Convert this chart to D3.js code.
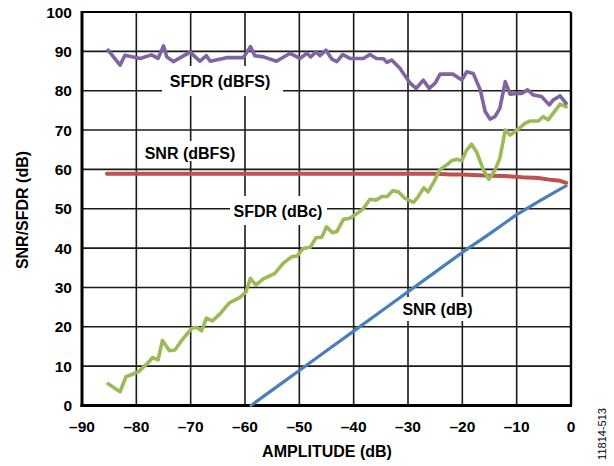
<!DOCTYPE html>
<html><head><meta charset="utf-8">
<script src="https://cdn.jsdelivr.net/npm/d3@7"></script>
<style>body{margin:0;background:#fff}svg{display:block}text{font-family:"Liberation Sans",Arial,sans-serif}</style>
</head><body><svg id="c" width="614" height="466"></svg>
<script>
// ---- data ----
const xTicks = [-90,-80,-70,-60,-50,-40,-30,-20,-10,0];
const yTicks = [0,10,20,30,40,50,60,70,80,90,100];

const sfdrDbfsAmp = [-85.2,-83,-82.1,-79.3,-77.2,-76,-75,-74.4,-73.2,-70.1,-68.3,-67.1,-66.4,-63.4,-60.3,-59,-58.2,-56.6,-54.2,-51.7,-49.9,-48.6,-47.9,-46.9,-46.2,-45.1,-44,-43.1,-42,-40.7,-38.2,-37,-35.8,-34.5,-33.9,-33,-31.5,-29.6,-28.5,-27.2,-26.1,-25,-24.1,-21.7,-20.1,-19.2,-18,-16.7,-15.8,-14.9,-14,-13.1,-12.1,-11.2,-10,-9.1,-8,-6.9,-5.4,-4,-3.3,-2,-0.9];
const sfdrDbfs    = [90.3,86.5,89.0,88.2,89.1,88.2,91.4,88.6,87.4,89.8,87.5,88.9,87.5,88.4,88.4,91.2,88.9,88.6,87.5,89.5,88.2,89.5,88.6,89.9,88.9,90.3,88.0,87.4,89.2,88.2,88.2,89.2,88.2,88.1,87.2,87.8,85.7,81.9,80.6,82.7,80.6,81.9,84.2,84.2,82.7,84.8,84.4,80.2,74.7,72.8,73.4,75.5,82.3,79.1,79.3,79.3,80.2,78.9,78.5,76.4,77.6,78.7,76.8];

const sfdrDbcAmp = [-85.2,-83,-81.9,-80.6,-79.6,-78.1,-77,-76,-75.2,-73.9,-72.9,-71.5,-69.8,-68.9,-68,-67.1,-66,-64.6,-62.9,-60.9,-59.8,-59,-58,-56.7,-54.5,-53,-51.4,-50.4,-49.3,-48,-46.9,-45.9,-45,-43.9,-43.1,-41.9,-40.7,-39.4,-38.3,-37,-35.9,-34.8,-33.8,-32.8,-31.8,-30.6,-29,-28.1,-27.1,-26.3,-25.2,-24.1,-22.9,-22,-21,-20.1,-19.2,-18.3,-17.4,-16.1,-15.1,-14,-13.1,-12.1,-11.2,-10,-9.1,-8.5,-7.5,-6,-5.1,-4.2,-2.6,-2,-0.9];
const sfdrDbc    = [5.5,3.5,7.3,8.0,8.6,10.5,12.2,11.6,16.5,13.9,14.1,16.8,19.6,19.9,19.0,22.2,21.5,23.3,26.1,27.5,28.9,32.3,30.6,32.1,33.6,36.1,37.8,38.0,39.9,40.2,42.7,42.7,45.4,43.9,44.2,47.3,47.6,48.8,49.9,52.4,52.2,53.1,53.1,54.6,54.3,52.7,51.6,53.1,55.3,54.3,56.9,60.0,61.1,62.2,62.6,62.2,64.9,66.4,64.5,59.8,57.5,59.8,62.8,70.0,68.7,70.0,70.9,71.7,72.3,72.3,73.4,72.6,75.5,76.6,75.9];

const snrDbfsAmp = [-85.4,-80,-70,-60,-50,-40,-30,-25,-22,-20,-15,-12,-9,-6,-4,-2,-0.9];
const snrDbfs    = [58.9,58.9,58.9,58.9,58.9,58.9,58.9,58.9,58.7,58.7,58.4,58.3,58.0,57.8,57.4,57.1,56.6];

const snrDbAmp = [-58.9,-55,-50,-45,-40,-35,-30,-25,-20,-15,-10,-6,-4,-2,-0.9];
const snrDb    = [0,3.9,8.9,13.9,18.9,23.9,28.9,33.9,38.9,43.6,48.5,51.8,53.4,55.0,55.8];

// ---- layout ----
const svg = d3.select("#c");
const L = 82, R = 571, T = 12, B = 405.5;
const x = d3.scaleLinear().domain([-90,0]).range([L,R]);
const y = d3.scaleLinear().domain([0,100]).range([B,T]);
const fmt = v => v < 0 ? "\u2013" + Math.abs(v) : String(v);

// gridlines
const g = svg.append("g");
g.selectAll(".vx").data(xTicks).join("line")
  .attr("x1",d=>x(d)).attr("x2",d=>x(d)).attr("y1",T).attr("y2",B)
  .attr("stroke","#1a1a1a").attr("stroke-width",1.6);
g.selectAll(".hy").data(yTicks).join("line")
  .attr("x1",L).attr("x2",R).attr("y1",d=>y(d)).attr("y2",d=>y(d))
  .attr("stroke","#1a1a1a").attr("stroke-width",1.6);

// label boxes (mask gridlines)
const labels = [
  {t:"SFDR (dBFS)", cx:220, cy:81, box:[162,66,121,30]},
  {t:"SNR (dBFS)",  cx:190, cy:153, box:[141,141,98,20]},
  {t:"SFDR (dBc)",  cx:278, cy:211, box:[230,196,97,29]},
  {t:"SNR (dB)",    cx:437.5, cy:309, box:[398,297,79,24]}
];
svg.append("g").selectAll("rect").data(labels).join("rect")
  .attr("x",d=>d.box[0]).attr("y",d=>d.box[1]).attr("width",d=>d.box[2]).attr("height",d=>d.box[3])
  .attr("fill","#fff");

// frame
svg.append("line").attr("x1",L).attr("x2",L).attr("y1",T-1).attr("y2",B+1.5).attr("stroke","#000").attr("stroke-width",3);
svg.append("line").attr("x1",L-1.5).attr("x2",R+1).attr("y1",B).attr("y2",B).attr("stroke","#000").attr("stroke-width",3);
svg.append("line").attr("x1",L).attr("x2",R).attr("y1",T).attr("y2",T).attr("stroke","#000").attr("stroke-width",2.2);
svg.append("line").attr("x1",R).attr("x2",R).attr("y1",T).attr("y2",B).attr("stroke","#000").attr("stroke-width",2.4);

// series
const line = d3.line().x(d=>x(d[0])).y(d=>y(d[1]));
const series = [
  {a:snrDbfsAmp, v:snrDbfs, c:"#c0504d", w:4},
  {a:snrDbAmp, v:snrDb, c:"#4a7ebb", w:3.2},
  {a:sfdrDbcAmp, v:sfdrDbc, c:"#9bbb59", w:3.6},
  {a:sfdrDbfsAmp, v:sfdrDbfs, c:"#8064a2", w:3.6}
];
svg.append("g").selectAll("path").data(series).join("path")
  .attr("d",s=>line(s.a.map((a,i)=>[a,s.v[i]])))
  .attr("fill","none").attr("stroke",s=>s.c).attr("stroke-width",s=>s.w)
  .attr("stroke-linejoin","round").attr("stroke-linecap","round");

// label texts
svg.append("g").selectAll("text").data(labels).join("text")
  .attr("x",d=>d.cx).attr("y",d=>d.cy).attr("text-anchor","middle").attr("dominant-baseline","central")
  .attr("font-size",16).attr("font-weight","bold").attr("fill","#000").text(d=>d.t);

// tick labels
svg.append("g").selectAll("text").data(yTicks).join("text")
  .attr("x",72).attr("y",d=>y(d)).attr("text-anchor","end").attr("dominant-baseline","central")
  .attr("font-size",15.5).attr("font-weight","bold").text(d=>d);
svg.append("g").selectAll("text").data(xTicks).join("text")
  .attr("x",d=>x(d)).attr("y",432).attr("text-anchor","middle")
  .attr("font-size",15.5).attr("font-weight","bold").text(fmt);

// axis titles
svg.append("text").attr("x",327).attr("y",457).attr("text-anchor","middle")
  .attr("font-size",16).attr("font-weight","bold").text("AMPLITUDE (dB)");
svg.append("text").attr("transform","translate(22,210) rotate(-90)").attr("text-anchor","middle")
  .attr("dominant-baseline","central").attr("font-size",16).attr("font-weight","bold").text("SNR/SFDR (dB)");
svg.append("text").attr("transform","translate(602,434) rotate(-90)").attr("text-anchor","middle")
  .attr("dominant-baseline","central").attr("font-size",11).text("11814-513");
</script></body></html>
